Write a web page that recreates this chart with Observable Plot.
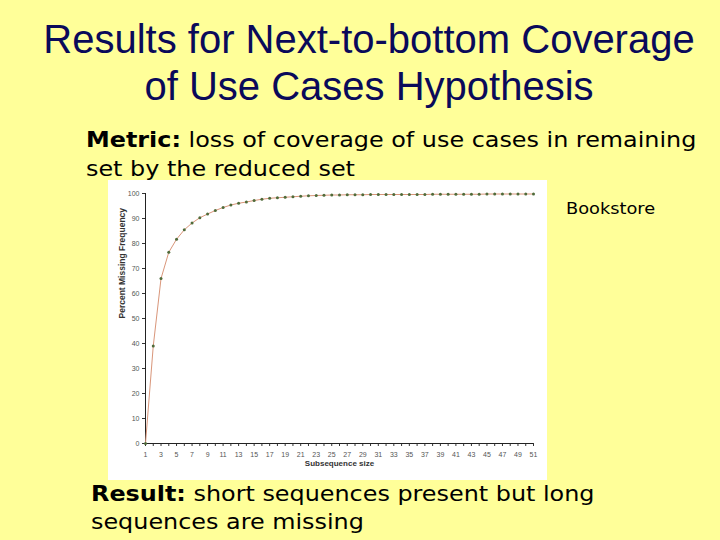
<!DOCTYPE html>
<html><head><meta charset="utf-8">
<script src="https://cdn.jsdelivr.net/npm/d3@7"></script>
<script src="https://cdn.jsdelivr.net/npm/@observablehq/plot@0.6"></script>
<style>
html,body{margin:0;padding:0;}
body{width:720px;height:540px;background:#ffff99;position:relative;overflow:hidden;}
.title{position:absolute;left:0;width:738px;text-align:center;font-family:"Liberation Sans",Arial,sans-serif;font-size:40px;color:#0a0a5a;line-height:47px;white-space:nowrap;}
.body{position:absolute;font-family:"DejaVu Sans",Verdana,sans-serif;font-size:21.5px;color:#000;line-height:29px;transform:scaleX(1.11);transform-origin:0 0;white-space:nowrap;}
#chart{position:absolute;left:108px;top:180px;width:439px;height:300px;background:#fff;}
</style></head>
<body>
<div class="title" style="top:16px;">Results for Next-to-bottom Coverage<br>of Use Cases Hypothesis</div>
<div class="body" style="left:86px;top:125px;"><b>Metric:</b> loss of coverage of use cases in remaining<br>set by the reduced set</div>
<div class="body" style="left:566px;top:199px;font-size:16px;line-height:20px;">Bookstore</div>
<div class="body" style="left:91px;top:480px;line-height:28px;"><b>Result:</b> short sequences present but long<br>sequences are missing</div>
<div id="chart"></div>
<script>
const sizes = d3.range(1, 52);
const percentMissing = [0, 39, 66, 76.5, 81.7, 85.5, 88.2, 90.3, 91.8, 93.2,
  94.4, 95.4, 96.1, 96.6, 97.2, 97.7, 98.1, 98.3, 98.5, 98.7,
  98.9, 99.1, 99.2, 99.3, 99.4, 99.4, 99.5, 99.5, 99.5, 99.6,
  99.6, 99.6, 99.6, 99.6, 99.6, 99.6, 99.6, 99.7, 99.7, 99.7,
  99.7, 99.7, 99.7, 99.7, 99.8, 99.8, 99.8, 99.8, 99.8, 99.8, 99.8];
const yTicks = d3.range(0, 101, 10);
const xLabel = "Subsequence size";
const yLabel = "Percent Missing Frequency";
const data = sizes.map((s, i) => ({size: s, pct: percentMissing[i]}));

const chart = Plot.plot({
  width: 439, height: 300,
  marginLeft: 37, marginTop: 13, marginBottom: 37, marginRight: 14,
  style: {background: "#fff", fontFamily: "'Liberation Sans', Arial, sans-serif", fontSize: "7px", color: "#555"},
  x: {domain: [1, 51]},
  y: {domain: [0, 100]},
  marks: [
    Plot.axisY({ticks: yTicks, tickSize: 3, tickPadding: 3, label: null, fontSize: 7, stroke: "#333"}),
    Plot.axisX({ticks: sizes, tickSize: 3, tickFormat: d => d % 2 === 1 ? d : "", label: null, fontSize: 7, stroke: "#333"}),
    Plot.text([yLabel], {frameAnchor: "left", rotate: -90, dx: -23, fontSize: 8.5, fontWeight: "bold", fill: "#333"}),
    Plot.text([xLabel], {frameAnchor: "bottom", dy: 22, fontSize: 8, fontWeight: "bold", fill: "#333"}),
    Plot.ruleX([1], {stroke: "#222"}),
    Plot.ruleY([0], {stroke: "#222"}),
    Plot.line(data, {x: "size", y: "pct", stroke: "#d9967a", strokeWidth: 1}),
    Plot.dot(data, {x: "size", y: "pct", r: 1.5, fill: "#4f6b3a", stroke: "none"})
  ]
});
document.getElementById("chart").appendChild(chart);
</script>
</body></html>
